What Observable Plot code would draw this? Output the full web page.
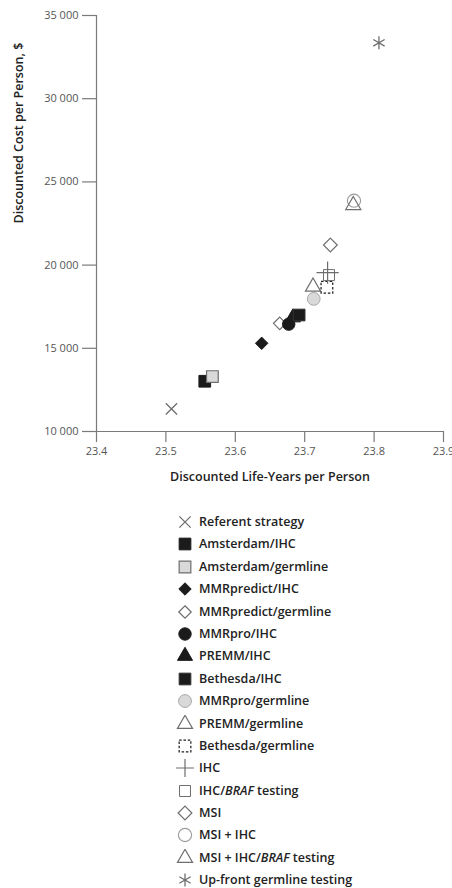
<!DOCTYPE html>
<html>
<head>
<meta charset="utf-8">
<script src="https://cdn.jsdelivr.net/npm/d3@7"></script>
<script src="https://cdn.jsdelivr.net/npm/@observablehq/plot@0.6"></script>
<style>
  body { margin: 0; background: #fff; font-family: "Open Sans", sans-serif; }
  #chart { position: absolute; left: 0; top: 0; }
  #legend { position: absolute; left: 0; top: 511px; width: 452px; }
  .row { position: relative; height: 22.4px; }
  .row svg { position: absolute; left: 176px; top: 2px; }
  .row span { position: absolute; left: 199px; top: 3px; line-height: 16px; font-size: 12.5px; font-weight: 600; color: #222; white-space: nowrap; }
</style>
</head>
<body>
<div id="chart"></div>
<div id="legend"></div>
<script>
const strategies = [
  "Referent strategy", "Amsterdam/IHC", "Amsterdam/germline", "MMRpredict/IHC",
  "MMRpredict/germline", "MMRpro/IHC", "PREMM/IHC", "Bethesda/IHC",
  "MMRpro/germline", "PREMM/germline", "Bethesda/germline", "IHC",
  "IHC/BRAF testing", "MSI", "MSI + IHC", "MSI + IHC/BRAF testing",
  "Up-front germline testing"
];
const lifeYears = [
  23.508, 23.556, 23.567, 23.638,
  23.664, 23.677, 23.683, 23.692,
  23.713, 23.712, 23.732, 23.733,
  23.735, 23.737, 23.771, 23.770,
  23.807
];
const costs = [
  11360, 13020, 13300, 15300,
  16500, 16450, 16850, 17000,
  17970, 18700, 18670, 19550,
  19400, 21210, 23870, 23600,
  33360
];
const xTicks = [23.4, 23.5, 23.6, 23.7, 23.8, 23.9];
const yTicks = [10000, 15000, 20000, 25000, 30000, 35000];

const BLACK = "#1b1b1b", GRAY = "#6e6e6e", LIGHT = "#d9d9d9", LIGHTSTROKE = "#a8a8a8";
const styles = {
  "Referent strategy":        {symbol: "times",    r: 5.2, fill: "none",  stroke: GRAY,  sw: 1.3},
  "Amsterdam/IHC":            {symbol: "square",   r: 6.6, fill: BLACK,   stroke: BLACK, sw: 1},
  "Amsterdam/germline":       {symbol: "square",   r: 6.6, fill: LIGHT,   stroke: GRAY,  sw: 1.2},
  "MMRpredict/IHC":           {symbol: "diamond2", r: 5.6, fill: BLACK,   stroke: BLACK, sw: 1},
  "MMRpredict/germline":      {symbol: "diamond2", r: 5.6, fill: "#fff",  stroke: GRAY,  sw: 1.2},
  "MMRpro/IHC":               {symbol: "circle",   r: 6.2, fill: BLACK,   stroke: BLACK, sw: 1},
  "PREMM/IHC":                {symbol: "triangle", r: 5.6, fill: BLACK,   stroke: BLACK, sw: 1},
  "Bethesda/IHC":             {symbol: "square",   r: 6.6, fill: BLACK,   stroke: "#333", sw: 1},
  "MMRpro/germline":          {symbol: "circle",   r: 6.4, fill: LIGHT,   stroke: LIGHTSTROKE, sw: 1},
  "PREMM/germline":           {symbol: "triangle", r: 5.6, fill: "none",  stroke: GRAY,  sw: 1.2},
  "Bethesda/germline":        {symbol: "square",   r: 6.6, fill: "none",  stroke: BLACK, sw: 1.2, dash: "2.5,1.8"},
  "IHC":                      {symbol: "plus",     r: 7.2, fill: "none",  stroke: GRAY,  sw: 1.2},
  "IHC/BRAF testing":         {symbol: "square",   r: 6.2, fill: "none",  stroke: GRAY,  sw: 1},
  "MSI":                      {symbol: "diamond2", r: 6.2, fill: "none",  stroke: GRAY,  sw: 1.2},
  "MSI + IHC":                {symbol: "circle",   r: 6.6, fill: "none",  stroke: "#9a9a9a", sw: 1.1},
  "MSI + IHC/BRAF testing":   {symbol: "triangle", r: 5.6, fill: "none",  stroke: GRAY,  sw: 1.2},
  "Up-front germline testing":{symbol: "asterisk", r: 6.2, fill: "none",  stroke: GRAY,  sw: 1.3}
};

const rows = strategies.map((s, i) => ({strategy: s, x: lifeYears[i], y: costs[i]}));
const fmt = d => d3.format(",")(d).replace(/,/g, " ");

const dotMarks = rows.map(row => {
  const st = styles[row.strategy];
  return Plot.dot([row], {
    x: "x", y: "y", symbol: st.symbol, r: st.r,
    fill: st.fill, stroke: st.stroke, strokeWidth: st.sw,
    strokeDasharray: st.dash
  });
});

const chart = Plot.plot({
  width: 452, height: 511,
  marginLeft: 96, marginRight: 9, marginTop: 15, marginBottom: 80,
  x: {domain: [23.4, 23.9]},
  y: {domain: [10000, 35000]},
  style: {fontFamily: "Open Sans", background: "#fff", overflow: "visible"},
  marks: [
    Plot.ruleX([23.4], {y1: 10000, y2: 35000, stroke: "#7a7a7a", strokeWidth: 1.2}),
    Plot.ruleY([10000], {x1: 23.4, x2: 23.9, stroke: "#7a7a7a", strokeWidth: 1.2}),
    Plot.axisY({ticks: yTicks, tickSize: 14, tickPadding: 4, tickFormat: fmt, label: null,
                stroke: "#7a7a7a", strokeWidth: 1.2, fill: "#555", fontSize: 11}),
    Plot.axisX({ticks: xTicks, tickSize: 11, tickPadding: 5, tickFormat: d => d.toFixed(1), label: null,
                stroke: "#7a7a7a", strokeWidth: 1.2, fill: "#555", fontSize: 11}),
    Plot.text(["Discounted Life-Years per Person"], {frameAnchor: "bottom", dy: 49,
                fontSize: 12.5, fontWeight: 600, fill: "#222"}),
    Plot.text(["Discounted Cost per Person, $"], {frameAnchor: "left", rotate: -90, dx: -78,
                fontSize: 12.5, fontWeight: 600, fill: "#222"}),
    ...dotMarks
  ]
});
document.getElementById("chart").appendChild(chart);

// Legend
const legend = d3.select("#legend");
const symMap = {times: d3.symbolTimes, square: d3.symbolSquare, diamond2: d3.symbolDiamond2,
                circle: d3.symbolCircle, triangle: d3.symbolTriangle, plus: d3.symbolPlus,
                asterisk: d3.symbolAsterisk};
strategies.forEach(s => {
  const st = styles[s];
  const row = legend.append("div").attr("class", "row");
  const svg = row.append("svg").attr("width", 18).attr("height", 18);
  svg.append("path")
    .attr("transform", "translate(9,9)")
    .attr("d", d3.symbol(symMap[st.symbol], st.r * st.r * Math.PI)())
    .attr("fill", st.fill).attr("stroke", st.stroke).attr("stroke-width", st.sw)
    .attr("stroke-dasharray", st.dash || null);
  const span = row.append("span");
  const m = s.match(/^(.*)BRAF(.*)$/);
  if (m) {
    span.append("tspan").text(m[1]);
    span.append("i").text("BRAF");
    span.append("tspan").text(m[2]);
  } else span.text(s);
});
</script>
</body>
</html>
